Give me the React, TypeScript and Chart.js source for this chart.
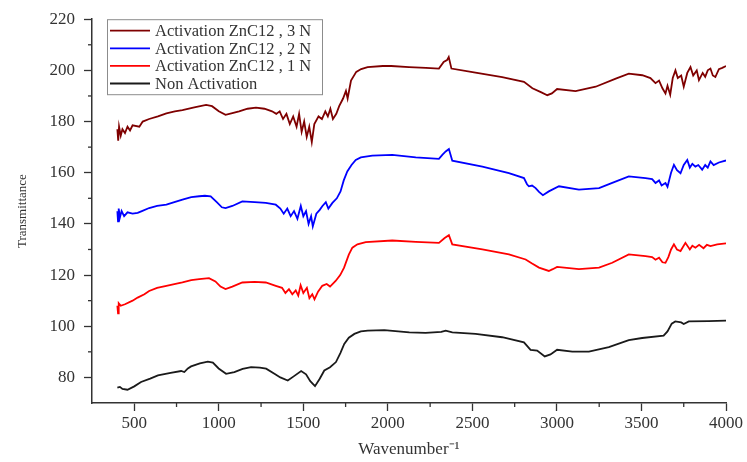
import React, { useEffect, useRef } from "react";
import { Chart, registerables } from "chart.js";

Chart.register(...registerables);

const FONT = "'Liberation Serif', 'Times New Roman', serif";

// Axis ticks
const xMajorTicks = [500, 1000, 1500, 2000, 2500, 3000, 3500, 4000];
const xMinorTicks = [750, 1250, 1750, 2250, 2750, 3250, 3750];
const yMajorTicks = [80, 100, 120, 140, 160, 180, 200, 220];
const yMinorTicks = [90, 110, 130, 150, 170, 190, 210];

// Series labels & colours
const seriesLabels = [
  "Activation ZnC12 , 3 N",
  "Activation ZnC12 , 2 N",
  "Activation ZnC12 , 1 N",
  "Non Activation",
];
const seriesColors = ["#7f0000", "#0000ff", "#ff0000", "#1a1a1a"];

// Activation ZnC12, 3 N
const wn3N = [400, 405, 410, 420, 430, 445, 460, 475, 490, 530, 550, 588, 640, 690, 740, 785, 855, 925, 960, 1000, 1040, 1080, 1120, 1170, 1220, 1270, 1315, 1340, 1360, 1380, 1400, 1420, 1440, 1460, 1475, 1490, 1505, 1520, 1535, 1550, 1565, 1590, 1610, 1630, 1645, 1660, 1675, 1695, 1712, 1735, 1752, 1762, 1782, 1813, 1842, 1880, 1970, 2020, 2125, 2225, 2302, 2330, 2350, 2360, 2376, 2518, 2676, 2805, 2855, 2905, 2943, 2970, 3001, 3110, 3229, 3348, 3425, 3505, 3553, 3583, 3604, 3624, 3642, 3654, 3670, 3685, 3701, 3715, 3735, 3750, 3771, 3790, 3806, 3827, 3840, 3862, 3877, 3892, 3908, 3922, 3937, 3958, 3978, 4000];
const t3N = [177, 172.5, 178, 174.5, 177, 175.5, 178, 176.5, 178.5, 178, 180, 181, 182, 183.2, 184, 184.5, 185.5, 186.5, 186, 184, 182.6, 183.3, 184, 185, 185.4, 185, 184, 183, 184, 181, 183, 179, 182, 178, 183, 176, 180, 174, 178, 172, 179, 182, 181, 184, 182, 185, 181, 183, 186, 189, 192, 189, 196, 199.4, 200.5, 201.3, 201.7, 201.7, 201.3, 201, 200.7, 203.3, 204, 205.2, 200.7, 199.1, 197.4, 195.5, 193, 191.5, 190.3, 191, 192.7, 191.9, 193.6, 196.8, 198.7, 198.1, 197, 195, 196, 193, 191, 194, 190.5, 197, 200, 197, 198, 193.6, 199, 201.3, 198, 200, 196.2, 199, 197.5, 200, 200.7, 198, 197.4, 200.5, 201, 201.7];

// Activation ZnC12, 2 N
const wn2N = [400, 404, 408, 415, 425, 440, 460, 490, 520, 545, 588, 635, 690, 737, 785, 837, 884, 918, 952, 988, 1018, 1040, 1080, 1139, 1212, 1278, 1337, 1364, 1384, 1405, 1425, 1445, 1465, 1485, 1500, 1516, 1531, 1546, 1556, 1577, 1597, 1612, 1633, 1648, 1672, 1698, 1720, 1739, 1760, 1785, 1810, 1840, 1908, 2026, 2165, 2302, 2322, 2342, 2361, 2381, 2559, 2716, 2805, 2823, 2834, 2853, 2874, 2894, 2917, 2952, 3012, 3130, 3249, 3327, 3425, 3524, 3563, 3583, 3604, 3619, 3642, 3654, 3675, 3692, 3710, 3731, 3750, 3771, 3786, 3801, 3819, 3836, 3859, 3877, 3892, 3908, 3927, 3958, 4000];
const t2N = [145, 141, 146, 142.5, 145, 143, 144.5, 144, 144.3, 145, 146.2, 147, 147.5, 148.5, 149.5, 150.5, 150.8, 151, 150.8, 148.5, 146.5, 146.2, 147, 148.8, 148.5, 148.2, 147.5, 146, 144, 146, 143, 145, 142, 147, 143, 145, 140, 143, 139, 144, 145.5, 146.9, 148.5, 146, 148.2, 150, 152.7, 157, 160.5, 163, 165, 166, 166.7, 167, 166, 165.4, 167, 168.3, 169.3, 164.7, 162.4, 159.8, 157.9, 155.5, 154.7, 155, 154, 152.5, 151.2, 152.7, 154.7, 153.4, 154, 156, 158.6, 157.9, 157.5, 156, 157, 155, 156, 154.5, 160, 163.1, 161, 159.8, 163, 165, 162, 163.5, 162.4, 163, 161.2, 163, 162, 164.4, 163, 164, 164.8];

// Activation ZnC12, 1 N
const wn1N = [400, 404, 408, 420, 445, 490, 520, 560, 588, 635, 690, 737, 785, 837, 884, 942, 980, 1010, 1040, 1080, 1139, 1212, 1278, 1337, 1374, 1394, 1415, 1435, 1455, 1470, 1484, 1500, 1521, 1536, 1553, 1566, 1587, 1612, 1638, 1658, 1691, 1718, 1741, 1769, 1790, 1820, 1869, 2026, 2165, 2302, 2336, 2361, 2381, 2559, 2716, 2815, 2853, 2894, 2952, 2975, 3001, 3130, 3249, 3327, 3425, 3524, 3563, 3583, 3604, 3624, 3642, 3659, 3675, 3692, 3710, 3731, 3760, 3786, 3801, 3819, 3841, 3867, 3887, 3908, 3948, 4000];
const t1N = [108, 105, 109, 108, 108.6, 110, 111.2, 112.5, 113.8, 115, 115.8, 116.5, 117.1, 118, 118.4, 118.8, 117.5, 115.5, 114.5, 115.5, 117.1, 117.3, 117.1, 115.8, 115, 113, 114.5, 112.5, 114, 112, 116, 113, 115, 111, 112.5, 110.5, 113.5, 115.8, 116.5, 115.5, 117.7, 120, 122.9, 128, 130.7, 132, 132.9, 133.5, 133, 132.6, 134.5, 135.6, 132, 130, 128.1, 126.1, 124.5, 122.9, 121.6, 122.3, 123.2, 122.3, 122.9, 124.8, 128.1, 127.4, 127, 126, 126.8, 125, 124.8, 127, 130, 132, 130, 129.4, 132.6, 130, 131.5, 130.7, 131.8, 130.5, 131.8, 131.3, 132, 132.4];

// Non Activation
const wnNon = [400, 415, 430, 460, 500, 540, 594, 640, 715, 777, 796, 817, 836, 888, 935, 965, 999, 1043, 1092, 1141, 1191, 1243, 1280, 1329, 1364, 1408, 1445, 1487, 1516, 1541, 1569, 1597, 1624, 1658, 1693, 1719, 1742, 1769, 1802, 1840, 1881, 1979, 2127, 2223, 2316, 2342, 2381, 2519, 2676, 2805, 2844, 2883, 2928, 2962, 3001, 3091, 3189, 3307, 3425, 3504, 3631, 3654, 3679, 3700, 3735, 3750, 3780, 3897, 4000];
const tNon = [76, 76.3, 75.5, 75.2, 76.5, 78.2, 79.5, 80.8, 81.8, 82.5, 82.1, 83.5, 84.3, 85.5, 86.2, 85.8, 83.5, 81.4, 82.1, 83.3, 84, 83.8, 83.4, 81.4, 80, 78.8, 80.5, 82.5, 81.2, 78.5, 76.6, 79.5, 82.7, 84, 86, 89.5, 93.1, 95.5, 97, 98, 98.3, 98.5, 97.6, 97.4, 97.8, 98.3, 97.6, 97, 95.7, 93.7, 90.8, 90.5, 88.2, 89, 90.8, 90.1, 90.1, 91.8, 94.6, 95.4, 96.3, 98, 101, 101.9, 101.5, 100.9, 101.9, 102, 102.2];

const seriesX = [wn3N, wn2N, wn1N, wnNon];
const seriesY = [t3N, t2N, t1N, tNon];

const AXIS_COLOR = "#333333";
const TEXT_COLOR = "#333333";

const minorTicksPlugin = {
  id: "minorTicks",
  afterDraw(chart: any) {
    const { ctx, chartArea, scales } = chart;
    const x = scales.x;
    const y = scales.y;
    ctx.save();
    ctx.strokeStyle = AXIS_COLOR;
    ctx.lineWidth = 1.3;
    yMinorTicks.forEach((v) => {
      const py = y.getPixelForValue(v);
      ctx.beginPath();
      ctx.moveTo(chartArea.left - 4, py);
      ctx.lineTo(chartArea.left, py);
      ctx.stroke();
    });
    xMinorTicks.forEach((v) => {
      const px = x.getPixelForValue(v);
      ctx.beginPath();
      ctx.moveTo(px, chartArea.bottom);
      ctx.lineTo(px, chartArea.bottom + 4);
      ctx.stroke();
    });
    ctx.restore();
  },
};

const boxLegendPlugin = {
  id: "boxLegend",
  afterDraw(chart: any) {
    const { ctx, chartArea } = chart;
    const left = chartArea.left + 15;
    const top = chartArea.top;
    const w = 215;
    const h = 75;
    ctx.save();
    ctx.fillStyle = "#ffffff";
    ctx.fillRect(left, top, w, h);
    ctx.strokeStyle = "#8c8c8c";
    ctx.lineWidth = 1;
    ctx.strokeRect(left + 0.5, top + 0.5, w, h);
    ctx.font = `16.5px ${FONT}`;
    ctx.textBaseline = "middle";
    ctx.textAlign = "left";
    chart.data.datasets.forEach((ds: any, i: number) => {
      const cy = top + 11.5 + i * 17.6;
      ctx.strokeStyle = ds.borderColor;
      ctx.lineWidth = 1.8;
      ctx.beginPath();
      ctx.moveTo(left + 3, cy);
      ctx.lineTo(left + 43, cy);
      ctx.stroke();
      ctx.fillStyle = TEXT_COLOR;
      ctx.fillText(ds.label, left + 48, cy + 1);
    });
    ctx.restore();
  },
};

export default function App() {
  const canvasRef = useRef<HTMLCanvasElement | null>(null);

  useEffect(() => {
    const canvas = canvasRef.current;
    if (!canvas) return;
    const datasets = seriesLabels.map((label, i) => ({
      label,
      data: seriesX[i].map((xv, j) => ({ x: xv, y: seriesY[i][j] })),
      borderColor: seriesColors[i],
      backgroundColor: seriesColors[i],
      borderWidth: 1.8,
      pointRadius: 0,
      tension: 0,
      fill: false,
    }));

    const chart = new Chart(canvas, {
      type: "line",
      data: { datasets },
      plugins: [minorTicksPlugin, boxLegendPlugin],
      options: {
        animation: false,
        responsive: true,
        maintainAspectRatio: false,
        layout: { padding: { top: 17, right: 21, bottom: 0, left: 0 } },
        plugins: {
          legend: { display: false },
          tooltip: { enabled: false },
        },
        scales: {
          x: {
            type: "linear",
            min: 250,
            max: 4000,
            afterBuildTicks: (s: any) => {
              s.ticks = xMajorTicks.map((v) => ({ value: v }));
            },
            afterFit: (s: any) => {
              s.height = 59;
            },
            border: { display: true, color: AXIS_COLOR, width: 1.5 },
            grid: {
              drawOnChartArea: false,
              drawTicks: true,
              tickLength: 8,
              tickColor: AXIS_COLOR,
              tickWidth: 1.3,
            },
            ticks: {
              font: { family: FONT, size: 17 },
              color: TEXT_COLOR,
              padding: 2,
              maxRotation: 0,
              autoSkip: false,
              callback: (v: any) => String(v),
            },
            title: {
              display: true,
              text: "Wavenumber\u207B\u00B9",
              font: { family: FONT, size: 17 },
              color: TEXT_COLOR,
              padding: { top: 0, bottom: 2 },
            },
          },
          y: {
            type: "linear",
            min: 70,
            max: 220,
            afterBuildTicks: (s: any) => {
              s.ticks = yMajorTicks.map((v) => ({ value: v }));
            },
            afterFit: (s: any) => {
              s.width = 92;
            },
            border: { display: true, color: AXIS_COLOR, width: 1.5 },
            grid: {
              drawOnChartArea: false,
              drawTicks: true,
              tickLength: 8,
              tickColor: AXIS_COLOR,
              tickWidth: 1.3,
            },
            ticks: {
              font: { family: FONT, size: 17 },
              color: TEXT_COLOR,
              padding: 9,
              autoSkip: false,
              callback: (v: any) => String(v),
            },
            title: {
              display: true,
              text: "Transmittance",
              font: { family: FONT, size: 13 },
              color: TEXT_COLOR,
              padding: { top: 15, bottom: 0 },
            },
          },
        },
      },
    });
    return () => chart.destroy();
  }, []);

  return (
    <div
      style={{
        position: "absolute",
        left: 0,
        top: 0,
        width: 747,
        height: 462,
        background: "#ffffff",
      }}
    >
      <canvas ref={canvasRef} />
    </div>
  );
}
